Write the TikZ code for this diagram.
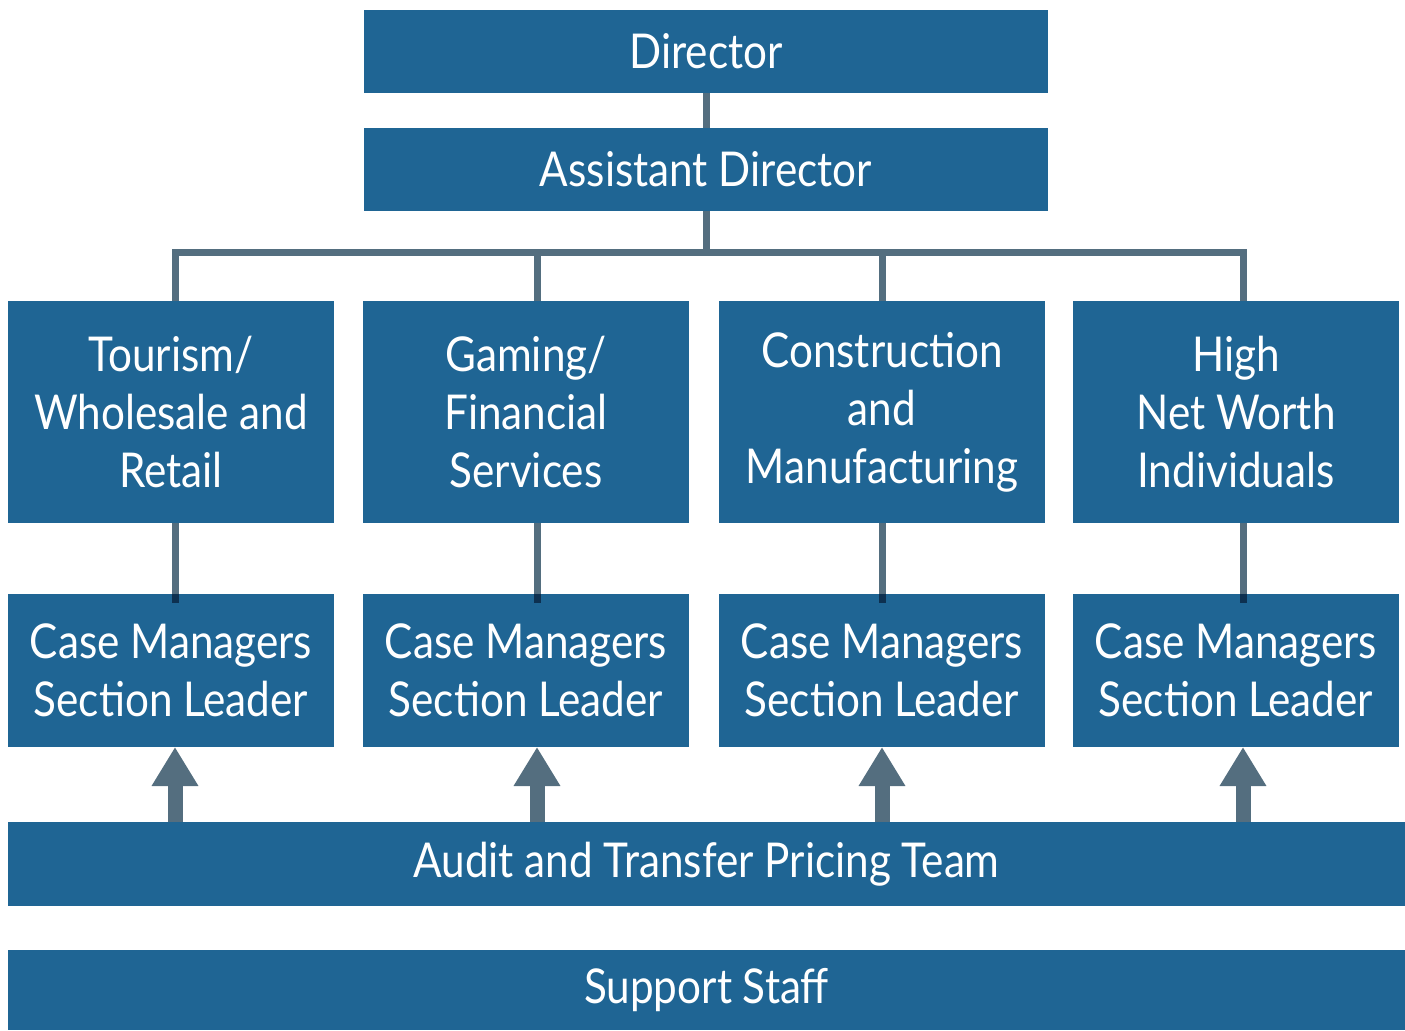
\documentclass[tikz,border=0pt]{standalone}
\usepackage{fontspec}
\setmainfont{Lato}[FakeStretch=0.88]
\usetikzlibrary{arrows.meta}
\definecolor{boxblue}{HTML}{1F6594}
\definecolor{linkgray}{HTML}{546E7F}
\definecolor{linkdark}{HTML}{0D3050}
\tikzset{%
  >=latex,
  box/.style={fill=boxblue,text=white,inner sep=0pt,outer sep=0pt,align=center,
    font=\fontsize{24}{29}\selectfont},
  link/.style={draw=linkgray,line width=3.5pt},
  feed/.style={draw=linkgray,fill=linkgray,line width=7.5pt,
    -{Triangle[width=22pt,length=19.5pt]}}%
}

\begin{document}
\begin{tikzpicture}[x=0.5pt,y=-0.5pt]
\useasboundingbox (0,0) rectangle (1405,1030);

% top of the chart
\node[box,minimum width=342pt,minimum height=41.5pt] (dir) at (706,51.5) {Director};
\node[box,minimum width=342pt,minimum height=41.5pt] (ad) at (706,169.5) {Assistant Director};

% the four sections
\node[box,minimum width=163pt,minimum height=111pt] (tour) at (171,412) {Tourism/\\Wholesale and\\Retail};
\node[box,minimum width=163pt,minimum height=111pt] (gam) at (526,412) {Gaming/\\Financial\\Services};
\node[box,minimum width=163pt,minimum height=111pt] (cons) at (882,412) {Construction\\and\\Manufacturing};
\node[box,minimum width=163pt,minimum height=111pt] (hnw) at (1236,412) {High\\Net Worth\\Individuals};

\node[box,minimum width=163pt,minimum height=76.5pt] (cm1) at (171,670.5) {Case Managers\\Section Leader};
\node[box,minimum width=163pt,minimum height=76.5pt] (cm2) at (526,670.5) {Case Managers\\Section Leader};
\node[box,minimum width=163pt,minimum height=76.5pt] (cm3) at (882,670.5) {Case Managers\\Section Leader};
\node[box,minimum width=163pt,minimum height=76.5pt] (cm4) at (1236,670.5) {Case Managers\\Section Leader};

% teams along the bottom
\node[box,minimum width=698.5pt,minimum height=42pt] (audit) at (706.5,864) {Audit and Transfer Pricing Team};
\node[box,minimum width=698.5pt,minimum height=40pt] (staff) at (706.5,990) {Support Staff};

% bus under the assistant director
\coordinate (b1) at (175,252);
\coordinate (b2) at (537,252);
\coordinate (b3) at (882,252);
\coordinate (b4) at (1243,252);

\draw[link] (dir) -- (ad);
\draw[link] (ad.south) -- (ad.south |- b1);
\draw[link] (b1 |- tour.north) -- (b1) -- (b4) -- (b4 |- hnw.north);
\draw[link] (b2) -- (b2 |- gam.north);
\draw[link] (b3) -- (b3 |- cons.north);

% sections down to their leaders
\draw[link] (b1 |- tour.south) -- (b1 |- cm1.north);
\draw[link] (b2 |- gam.south) -- (b2 |- cm2.north);
\draw[link] (b3 |- cons.south) -- (b3 |- cm3.north);
\draw[link] (b4 |- hnw.south) -- (b4 |- cm4.north);
\draw[link,draw=linkdark] (b1 |- cm1.north) -- ++(0,9);
\draw[link,draw=linkdark] (b2 |- cm2.north) -- ++(0,9);
\draw[link,draw=linkdark] (b3 |- cm3.north) -- ++(0,9);
\draw[link,draw=linkdark] (b4 |- cm4.north) -- ++(0,9);

% audit team feeds every section
\draw[feed] (b1 |- audit.north) -- (b1 |- cm1.south);
\draw[feed] (b2 |- audit.north) -- (b2 |- cm2.south);
\draw[feed] (b3 |- audit.north) -- (b3 |- cm3.south);
\draw[feed] (b4 |- audit.north) -- (b4 |- cm4.south);
\end{tikzpicture}
\end{document}
